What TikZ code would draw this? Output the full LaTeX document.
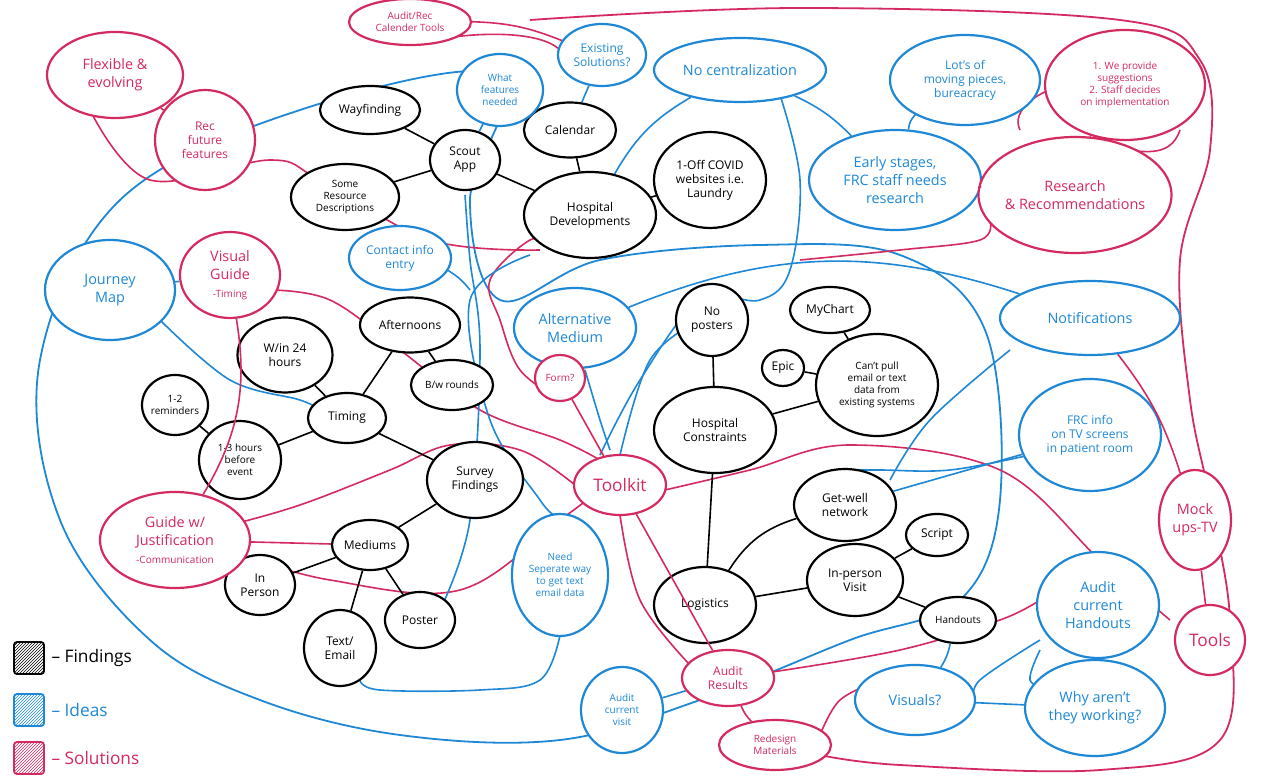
\documentclass[tikz,border=0pt]{standalone}
\usepackage{fontspec}
\setmainfont{Open Sans}
\usetikzlibrary{shapes.geometric,patterns}
\definecolor{bl}{HTML}{1E88D6}
\definecolor{pk}{HTML}{D42A60}
\tikzset{
 e/.style={ellipse,draw,line width=2.2pt,align=center,inner sep=-2pt,font=\large},
 fb/.style={e,draw=black,text=black,fill=white},
 ib/.style={e,draw=bl,text=bl,fill=white},
 sb/.style={e,draw=pk,text=pk,fill=white},
 kl/.style={line width=1.6pt,draw=black},
 bll/.style={line width=1.6pt,draw=bl},
 pkl/.style={line width=1.6pt,draw=pk},
 sm/.style={font=\normalsize},
 lg/.style={font=\Large},
}
\begin{document}
\begin{tikzpicture}[x=1pt,y=-1pt]
\useasboundingbox (0,0) rectangle (1280,783);
\fill[white] (0,0) rectangle (1280,783);
% big curves (behind)
\draw[bll,line width=1.8pt] plot[smooth cycle,tension=0.6] coordinates{(500,75)(300,110)(120,200)(40,360)(60,520)(150,640)(260,700)(400,735)(560,740)(700,700)(850,640)(960,600)(1000,500)(985,330)(900,255)(760,245)(600,260)(500,300)(470,200)};
\draw[pkl,line width=1.8pt] plot[smooth,tension=0.6] coordinates{(530,20)(800,8)(1120,20)(1200,60)(1210,150)(1180,260)(1190,400)(1210,500)(1230,620)(1220,740)(1100,770)(900,765)(820,755)};
\draw[pkl] plot[smooth,tension=0.6] coordinates{(90,110)(150,180)(270,160)(320,180)(430,240)(540,250)};
\draw[pkl] plot[smooth,tension=0.6] coordinates{(270,290)(330,300)(400,350)(480,410)(560,440)(600,460)};
\draw[pkl] plot[smooth,tension=0.6] coordinates{(240,555)(330,580)(460,590)(560,520)(600,490)};
\draw[pkl] plot[smooth,tension=0.6] coordinates{(230,525)(300,505)(390,470)(450,445)(520,450)(575,485)};
\draw[pkl] plot[smooth,tension=0.6] coordinates{(560,400)(520,370)(500,320)(490,280)(530,240)(560,240)};
\draw[pkl] plot[smooth,tension=0.6] coordinates{(665,490)(750,470)(850,445)(1000,470)(1100,560)(1170,620)};
\draw[pkl] plot[smooth,tension=0.6] coordinates{(620,515)(640,600)(690,665)};
\draw[pkl] plot[smooth,tension=0.6] coordinates{(772,672)(900,650)(1000,620)(1040,600)};
\draw[pkl] plot[smooth,tension=0.6] coordinates{(820,735)(840,700)(880,680)};
\draw[pkl] plot[smooth,tension=0.6] coordinates{(990,220)(980,240)(900,250)(800,260)};
\draw[bll] plot[smooth,tension=0.6] coordinates{(530,255)(470,300)(490,420)(540,500)(555,515)};
\draw[bll] plot[smooth,tension=0.6] coordinates{(585,370)(600,420)(610,450)};
\draw[bll] plot[smooth,tension=0.6] coordinates{(700,320)(650,360)(620,455)};
\draw[bll] plot[smooth,tension=0.6] coordinates{(780,95)(800,180)(790,270)(760,300)(700,300)(640,380)(600,455)};
\draw[bll] plot[smooth,tension=0.6] coordinates{(1030,455)(950,470)(880,470)(840,470)};
\draw[bll] plot[smooth,tension=0.6] coordinates{(1010,350)(930,420)(890,480)};
\draw[bll] plot[smooth,tension=0.6] coordinates{(160,320)(230,380)(300,400)(320,410)};
\draw[bll] plot[smooth,tension=0.6] coordinates{(560,635)(540,680)(480,690)(380,690)(360,680)};
\draw[bll] plot[smooth,tension=0.6] coordinates{(1040,640)(980,680)(975,700)};
\draw[bll] plot[smooth,tension=0.6] coordinates{(1040,650)(1030,680)(1050,690)};
\draw[bll] plot[smooth,tension=0.6] coordinates{(465,195)(470,260)(480,350)(470,520)(440,610)};
\draw[pkl] (410,45) .. controls (470,30) and (540,30) .. (560,50);
\draw[pkl] (1180,130) .. controls (1170,160) and (1140,150) .. (1120,150);
\draw[pkl] (1065,85) .. controls (1040,90) and (1010,110) .. (1020,130);

% findings
\node[fb,minimum width=100,minimum height=48] (way) at (370,110) {Wayfinding};
\node[fb,minimum width=70,minimum height=60] (scout) at (465,160) {Scout\\App};
\node[fb,minimum width=92,minimum height=55] (cal) at (570,130) {Calendar};
\node[fb,sm,minimum width=108,minimum height=66] (res) at (345,197) {Some\\Resource\\Descriptions};
\node[fb,minimum width=132,minimum height=86] (hd) at (590,215) {Hospital\\Developments};
\node[fb,minimum width=112,minimum height=96] (covid) at (710,180) {1-Off COVID\\websites i.e.\\Laundry};
\node[fb,minimum width=100,minimum height=55] (aft) at (410,325) {Afternoons};
\node[fb,minimum width=95,minimum height=75] (w24) at (285,355) {W/in 24\\hours};
\node[fb,sm,minimum width=82,minimum height=50] (bw) at (452,385) {B/w rounds};
\node[fb,sm,minimum width=66,minimum height=60] (rem) at (175,405) {1-2\\reminders};
\node[fb,minimum width=78,minimum height=50] (tim) at (347,418) {Timing};
\node[fb,sm,minimum width=82,minimum height=78] (h13) at (240,460) {1-3 hours\\before\\event};
\node[fb,minimum width=96,minimum height=76] (sur) at (475,480) {Survey\\Findings};
\node[fb,minimum width=76,minimum height=50] (med) at (370,545) {Mediums};
\node[fb,minimum width=70,minimum height=60] (inp) at (260,585) {In\\Person};
\node[fb,minimum width=70,minimum height=56] (pos) at (420,620) {Poster};
\node[fb,minimum width=72,minimum height=76] (txt) at (340,648) {Text/\\Email};
\node[fb,minimum width=72,minimum height=72] (nop) at (712,320) {No\\posters};
\node[fb,minimum width=80,minimum height=46] (myc) at (830,310) {MyChart};
\node[fb,minimum width=42,minimum height=36] (epic) at (783,368) {Epic};
\node[fb,sm,minimum width=122,minimum height=102] (cant) at (877,385) {Can't pull\\email or text\\data from\\existing systems};
\node[fb,minimum width=122,minimum height=86] (hc) at (715,430) {Hospital\\Constraints};
\node[fb,minimum width=102,minimum height=72] (gw) at (845,505) {Get-well\\network};
\node[fb,minimum width=62,minimum height=42] (scr) at (937,535) {Script};
\node[fb,minimum width=96,minimum height=72] (ipv) at (855,580) {In-person\\Visit};
\node[fb,minimum width=102,minimum height=76] (log) at (705,605) {Logistics};
\node[fb,sm,minimum width=76,minimum height=46] (hand) at (958,620) {Handouts};
% ideas
\node[ib,sm,minimum width=86,minimum height=72] (wf) at (500,90) {What\\features\\needed};
\node[ib,minimum width=88,minimum height=62] (ex) at (602,55) {Existing\\Solutions?};
\node[ib,lg,minimum width=172,minimum height=64] (noc) at (740,70) {No centralization};
\node[ib,minimum width=150,minimum height=90] (lot) at (965,80) {Lot's of\\moving pieces,\\bureacracy};
\node[ib,lg,minimum width=172,minimum height=100] (early) at (895,180) {Early stages,\\FRC staff needs\\research};
\node[ib,lg,minimum width=130,minimum height=100] (jm) at (110,290) {Journey\\Map};
\node[ib,minimum width=102,minimum height=64] (ci) at (400,258) {Contact info\\entry};
\node[ib,lg,minimum width=122,minimum height=80] (alt) at (575,328) {Alternative\\Medium};
\node[ib,lg,minimum width=180,minimum height=74] (not) at (1090,318) {Notifications};
\node[ib,minimum width=142,minimum height=112] (frc) at (1090,435) {FRC info\\on TV screens\\in patient room};
\node[ib,sm,minimum width=96,minimum height=122] (need) at (560,575) {Need\\Seperate way\\to get text\\email data};
\node[ib,lg,minimum width=122,minimum height=106] (ah) at (1098,605) {Audit\\current\\Handouts};
\node[ib,sm,minimum width=82,minimum height=86] (av) at (622,710) {Audit\\current\\visit};
\node[ib,lg,minimum width=120,minimum height=70] (vis) at (915,700) {Visuals?};
\node[ib,lg,minimum width=140,minimum height=96] (why) at (1095,708) {Why aren't\\they working?};
% solutions
\node[sb,sm,minimum width=122,minimum height=46] (arc) at (410,22) {Audit/Rec\\Calender Tools};
\node[sb,lg,minimum width=136,minimum height=86] (flex) at (115,75) {Flexible \&\\evolving};
\node[sb,minimum width=100,minimum height=100] (rec) at (205,140) {Rec\\future\\features};
\node[sb,lg,minimum width=100,minimum height=86] (vg) at (230,275) {Visual\\Guide\\{\normalsize -Timing}};
\node[sb,sm,minimum width=160,minimum height=110] (we) at (1125,85) {1. We provide\\suggestions\\2. Staff decides\\on implementation};
\node[sb,lg,minimum width=172,minimum height=116] (rr) at (1075,195) {Research\\\& Recommendations};
\node[sb,sm,minimum width=50,minimum height=46] (form) at (560,378) {Form?};
\node[sb,font=\LARGE,minimum width=92,minimum height=60] (tk) at (620,485) {Toolkit};
\node[sb,lg,minimum width=150,minimum height=96] (gj) at (175,540) {Guide w/\\Justification\\{\normalsize -Communication}};
\node[sb,lg,minimum width=72,minimum height=100] (mock) at (1195,520) {Mock\\ups-TV};
\node[sb,font=\LARGE,minimum width=70,minimum height=70] (tools) at (1210,640) {Tools};
\node[sb,minimum width=92,minimum height=56] (ar) at (728,678) {Audit\\Results};
\node[sb,sm,minimum width=112,minimum height=50] (rm) at (775,745) {Redesign\\Materials};

% black edges
\begin{scope}[on background layer/.style={}]
\end{scope}
\draw[kl] (way)--(scout); \draw[kl] (scout)--(res); \draw[kl] (scout)--(hd);
\draw[kl] (cal)--(hd); \draw[kl] (hd)--(covid);
\draw[kl] (tim)--(aft); \draw[kl] (tim)--(w24); \draw[kl] (tim)--(h13); \draw[kl] (rem)--(h13);
\draw[kl] (aft)--(bw); \draw[kl] (tim)--(sur); \draw[kl] (sur)--(med);
\draw[kl] (med)--(inp); \draw[kl] (med)--(txt); \draw[kl] (med)--(pos);
\draw[kl] (nop)--(hc); \draw[kl] (hc)--(cant); \draw[kl] (cant)--(myc); \draw[kl] (cant)--(epic);
\draw[kl] (hc)--(log); \draw[kl] (log)--(ipv); \draw[kl] (log) to[bend left=20] (gw);
\draw[kl] (ipv)--(scr); \draw[kl] (ipv)--(hand);
% blue edges
\draw[bll] (wf)--(scout); \draw[bll] (ex)--(cal); \draw[bll] (noc) to[bend right=15] (hd);
\draw[bll] (noc) to[bend left=10] (early); \draw[bll] (lot) to[bend right=20] (early);
\draw[bll] (jm)--(vg); \draw[bll] (ci) to[bend left=10] (470,290);
\draw[bll] (alt) to[bend left=20] (not);
\draw[bll] (frc)--(gw);
\draw[bll] (av)--(ar); \draw[bll] (vis)--(why); \draw[bll] (ah)--(why);
\draw[bll] (hand) to[bend left=10] (vis);
% pink edges
\draw[pkl] (flex)--(rec); \draw[pkl] (arc) to[bend left=10] (ex);
\draw[pkl] (vg) to[bend left=20] (gj);
\draw[pkl] (we) to[bend right=10] (rr); \draw[pkl] (rr)--(early);
\draw[pkl] (form)--(tk); \draw[pkl] (tk)--(ar); \draw[pkl] (mock)--(tools);
\draw[pkl] (not) to[bend left=10] (mock); \draw[pkl] (ar) to[bend right=10] (rm);
\draw[pkl] (gj)--(med);

% legend
\foreach \y/\c/\t in {658/black/Findings,710/bl/Ideas,758/pk/Solutions}{
 \draw[\c,line width=1.8pt,pattern=north east lines,pattern color=\c,rounded corners=3pt] (14,\y-16) rectangle (44,\y+16);
 \node[anchor=west,text=\c,font=\LARGE] at (48,\y) {-- \t};
}
\end{tikzpicture}
\end{document}
